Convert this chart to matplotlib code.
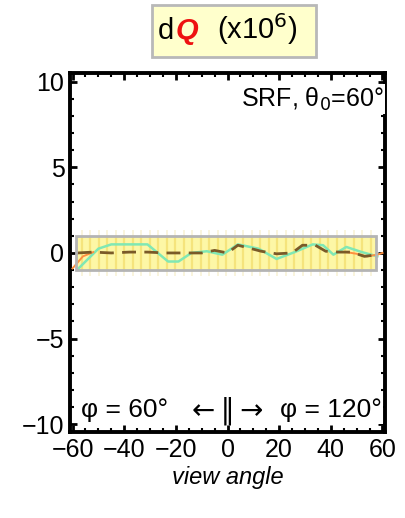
import numpy as np
import matplotlib
matplotlib.use("Agg")
import matplotlib.pyplot as plt
from matplotlib.patches import Rectangle
from matplotlib.ticker import MultipleLocator

plt.rcParams['font.family'] = ['Liberation Sans', 'DejaVu Sans']

# green curve (dQ along the principal plane)
green_x = [-58, -50, -45, -39, -31, -23, -19, -14, -8, -2, 4, 12, 19, 26, 33, 37, 41, 46, 52, 58]
green_y = [-0.95, 0.25, 0.5, 0.5, 0.5, -0.5, -0.5, 0.0, 0.1, -0.1, 0.5, 0.25, -0.35, 0.05, 0.5, 0.45, -0.1, 0.35, 0.05, -0.2]

# dashed brown curve
brown_x = [-58, -52, -45, -38, -31, -24, -17, -10, -5, 0, 4, 8, 13, 19, 25, 29, 34, 38, 43, 48, 53, 58]
brown_y = [0.0, 0.05, 0.0, 0.05, 0.05, 0.0, 0.0, 0.0, 0.15, 0.0, 0.45, 0.3, 0.1, -0.05, 0.0, 0.45, 0.45, 0.1, 0.05, 0.05, -0.2, -0.1]

# orange pieces at both ends
orange_left_x = [-60, -56, -52]
orange_left_y = [-0.9, -0.2, 0.05]
orange_right_x = [46, 50, 54, 58, 60]
orange_right_y = [0.05, -0.05, -0.2, -0.1, 0.0]

# tolerance band and the sampled angles inside it
band_lo, band_hi = -1.0, 1.0
band_left, band_right = -58.5, 57.3
stripe_x = np.linspace(-56.5, 55.5, 35)

xticks = [-60, -40, -20, 0, 20, 40, 60]
yticks = [-10, -5, 0, 5, 10]

fig = plt.figure(figsize=(4.05, 5.18), dpi=100)
ax = fig.add_axes([0.1728, 0.166, 0.778, 0.693])

# yellow band with vertical stripes
ax.add_patch(Rectangle((band_left, band_lo), band_right - band_left, band_hi - band_lo,
                       facecolor='#fdf7a6', edgecolor='none', zorder=1))
ax.vlines(stripe_x, band_lo, band_hi, colors='#f0d860', lw=1.6, alpha=0.6, zorder=1.5)
ax.vlines(stripe_x, band_hi, band_hi + 0.35, colors='#f3e7b0', lw=1.2, alpha=0.5, zorder=1.5)
ax.vlines(stripe_x, band_lo - 0.35, band_lo, colors='#f3e7b0', lw=1.2, alpha=0.5, zorder=1.5)
ax.add_patch(Rectangle((band_left, band_lo), band_right - band_left, band_hi - band_lo,
                       facecolor='none', edgecolor='#b4b4b4', lw=2, zorder=4))

ax.plot(green_x, green_y, color='#80e8b4', lw=1.8, zorder=3)
ax.plot(brown_x, brown_y, color='#7a5a28', lw=2.0, ls=(0, (5, 3)), zorder=3.2)
ax.plot(orange_left_x, orange_left_y, color='#ff9040', lw=1.4, zorder=3.1)
ax.plot(orange_right_x, orange_right_y, color='#ff9040', lw=1.4, zorder=3.1)

ax.set_xlim(-61, 61)
ax.set_ylim(-10.45, 10.5)
ax.set_xticks(xticks)
ax.set_yticks(yticks)
ax.xaxis.set_minor_locator(MultipleLocator(5))
ax.yaxis.set_minor_locator(MultipleLocator(1))
ax.tick_params(which='both', direction='in', top=True, right=True, labelsize=18, pad=4)
ax.tick_params(which='major', length=5, width=2)
ax.tick_params(which='minor', length=3, width=1.5)
for s in ax.spines.values():
    s.set_linewidth(2.8)

ax.set_xlabel('view angle', fontsize=17, style='italic', labelpad=3)

ax.text(0.995, 0.965, 'SRF, θ$_0$=60°', transform=ax.transAxes, fontsize=18,
        ha='right', va='top', math_fontfamily='dejavusans',
        bbox=dict(facecolor='white', edgecolor='none', pad=1))
ax.text(0.035, 0.06, 'φ = 60°', transform=ax.transAxes, fontsize=19, ha='left', va='center',
        bbox=dict(facecolor='white', edgecolor='none', pad=1))
ax.text(0.5, 0.06, '←\u2009‖\u2009→', transform=ax.transAxes, fontsize=20, ha='center',
        va='center', family='DejaVu Sans')
ax.text(0.99, 0.06, 'φ = 120°', transform=ax.transAxes, fontsize=19, ha='right', va='center',
        bbox=dict(facecolor='white', edgecolor='none', pad=1))

# heading box: "dQ (x10^6)" with a red bold italic Q
fig.patches.append(Rectangle((152 / 405, 1 - 57 / 518), 164 / 405, 52 / 518,
                             transform=fig.transFigure, facecolor='#ffffcc',
                             edgecolor='#b8b8b8', lw=2))
base_y = 1 - 39 / 518
fig.text(158 / 405, base_y, 'd', fontsize=21, ha='left', va='baseline')
fig.text(176 / 405, base_y, 'Q', fontsize=21, color='#ee1111', weight='bold', style='italic',
         ha='left', va='baseline')
fig.text(217 / 405, base_y, '(x10$^6$)', fontsize=21, ha='left', va='baseline',
         math_fontfamily='dejavusans')

fig.savefig('out.png', dpi=100, facecolor='white')
